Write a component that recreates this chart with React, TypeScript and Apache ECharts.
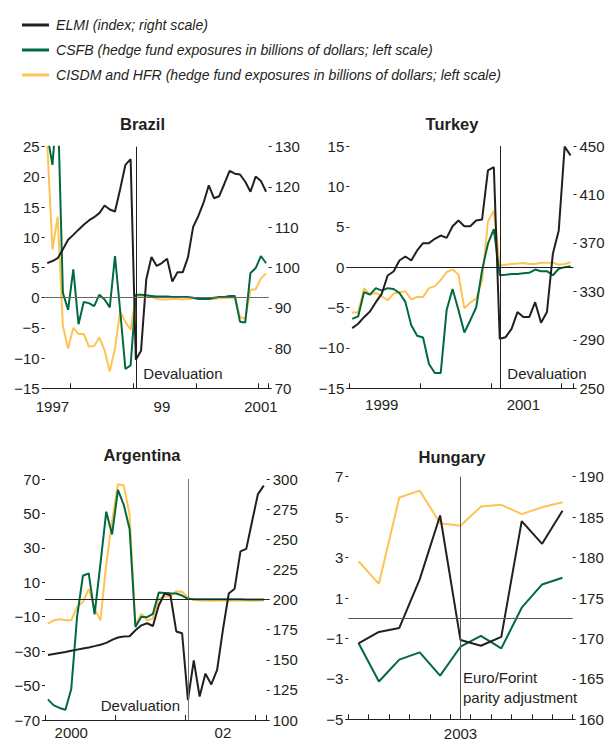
import React, { useEffect, useRef } from 'react';
import * as echarts from 'echarts';

const FONT_REG = '"Liberation Sans", Arial, Helvetica, sans-serif';
const INK = '#231f20';
const BLACK = '#231f20';
const GREEN = '#006a3e';
const YELLOW = '#fdc454';

const ELMI = 'ELMI (index; right scale)';
const CSFB = 'CSFB (hedge fund exposures in billions of dollars; left scale)';
const CISDM = 'CISDM and HFR (hedge fund exposures in billions of dollars; left scale)';

const monthList = (startYear: number, startMonth: number, count: number): string[] => {
  const out: string[] = [];
  for (let i = 0; i < count; i++) {
    const m0 = startMonth - 1 + i;
    const y = startYear + Math.floor(m0 / 12);
    const m = (m0 % 12) + 1;
    out.push(`${y}-${m < 10 ? '0' : ''}${m}`);
  }
  return out;
};

// ---------------- Brazil ----------------
const brazilMonths = monthList(1997, 8, 43);
const brazilElmi = [101.1, 101.6, 102.3, 104.5, 106.9, 108.1, 109.4, 110.6, 111.7, 112.5, 113.5, 115.4, 114.4, 113.9, 119.5, 125.5, 126.9, 77.1, 79.3, 97.0, 102.6, 100.4, 101.1, 102.2, 96.5, 98.8, 98.8, 102.5, 110.1, 112.8, 116.1, 120.4, 117.2, 117.7, 120.8, 124.0, 123.3, 123.1, 121.3, 118.8, 122.6, 121.5, 118.8];
const brazilCsfb = [27, 22, 33, 0.8, -2.0, 4.7, -4.4, -0.7, -0.9, -1.4, 0.5, -0.3, -1.6, 6.9, -2.2, -11.8, -11.2, 0.5, 0.5, 0.4, 0.3, 0.2, 0.2, 0.2, 0.1, 0.1, 0.1, 0.1, 0.0, -0.2, -0.2, -0.2, 0.0, 0.1, 0.1, 0.3, 0.3, -4.0, -4.1, 4.1, 4.9, 6.9, 5.7];
const brazilCisdm = [25.5, 8.0, 13.4, -4.7, -8.4, -5.0, -6.0, -6.0, -8.1, -8.0, -6.6, -8.7, -12.2, -8.4, -2.3, -4.0, -5.3, 0.3, 0.2, 0.2, 0.1, -0.2, -0.3, -0.3, -0.2, -0.2, -0.3, -0.2, -0.1, 0.0, -0.1, -0.2, -0.2, -0.1, -0.1, 0.0, 0.0, -3.2, -3.5, 1.3, 1.4, 3.2, 4.0];
const brazilLeftScale = { min: -15, max: 25, step: 5 };
const brazilRightScale = { min: 70, max: 130, step: 10 };
const brazilYearLabels: Record<string, string> = { '1997-09': '1997', '1999-06': '99', '2001-01': '2001' };
const brazilEvent = '1999-01';

// ---------------- Turkey ----------------
const turkeyMonths = monthList(1999, 1, 38);
const turkeyElmi = [299.7, 303.3, 308.7, 313.4, 321.1, 328.0, 343.1, 346.4, 355.5, 358.8, 355.5, 363.8, 369.8, 369.8, 373.4, 376.1, 374.2, 383.8, 388.5, 383.8, 383.8, 388.5, 389.3, 429.8, 432.5, 290.9, 292.2, 299.1, 312.9, 308.8, 308.8, 321.1, 304.1, 312.9, 361.0, 380.3, 449.5, 442.1];
const turkeyCsfb = [-6.4, -6.1, -3.1, -3.4, -2.6, -2.9, -2.6, -2.7, -3.2, -4.3, -7.2, -8.5, -8.7, -12.0, -13.1, -13.1, -5.3, -2.7, -5.3, -8.1, -6.6, -5.0, -0.4, 2.9, 4.7, -1.0, -0.95, -0.85, -0.85, -0.75, -0.7, -0.3, -0.5, -0.5, -1.0, -0.2, 0.0, 0.1];
const turkeyCisdm = [-5.6, -5.6, -2.6, -3.4, -3.2, -3.6, -4.1, -3.3, -3.1, -3.0, -4.0, -3.7, -3.7, -2.6, -2.35, -1.6, -0.6, -0.3, -0.9, -5.1, -4.4, -3.9, -1.65, 5.65, 7.0, 0.2, 0.3, 0.4, 0.45, 0.5, 0.4, 0.4, 0.55, 0.55, 0.55, 0.3, 0.4, 0.6];
const turkeyLeftScale = { min: -15, max: 15, step: 5 };
const turkeyRightScale = { min: 250, max: 450, step: 40 };
const turkeyYearLabels: Record<string, string> = { '1999-06': '1999', '2001-06': '2001' };
const turkeyEvent = '2001-02';

// ---------------- Argentina ----------------
const argentinaMonths = monthList(2000, 1, 38);
const argentinaElmi = [154, 154.8, 155.6, 156.4, 157.4, 158.4, 159.3, 160.2, 161.3, 162.5, 164, 166.5, 168.5, 169.3, 169.5, 174.5, 178.5, 180.3, 178, 195, 205, 203.5, 173.5, 172, 116.5, 149.5, 119.5, 138.5, 129.5, 141.5, 175, 205, 209, 240, 242, 265, 287.5, 294.5];
const argentinaCsfb = [-58, -61.5, -63, -64, -52, -10, 13.8, 15.2, -8.6, 20.7, 51, 37.8, 63.7, 55, 41, -16, -10, -10.3, -8.3, 4, 3.8, 3.6, 3.5, 2.3, 0.4, 0.2, 0.1, 0.1, 0.1, 0.2, 0.1, 0.1, 0.1, 0.1, 0.0, 0.0, 0.0, 0.0];
const argentinaCisdm = [-14, -12.1, -11.5, -12.1, -12.1, -4.4, -1.5, 6.1, -5.4, -12.1, 20.5, 45.5, 67, 66.2, 49.3, -15, -8.3, -12.1, -11.1, 0.5, 1.7, 1.7, 4.8, 4.5, 1.0, -0.2, -0.6, -0.6, -0.7, -0.6, -0.6, -0.7, -0.6, -0.6, -0.6, -0.7, -0.6, -0.6];
const argentinaLeftScale = { min: -70, max: 70, step: 20 };
const argentinaRightScale = { min: 100, max: 300, step: 25 };
const argentinaYearLabels: Record<string, string> = { '2000-05': '2000', '2002-07': '02' };
const argentinaEvent = '2002-01';

// ---------------- Hungary ----------------
const hungaryMonths = monthList(2003, 1, 11);
const hungaryElmi = [169.4, 170.8, 171.3, 177.3, 185.2, 169.8, 169.1, 170.2, 184.5, 181.7, 185.8];
const hungaryCsfb = [-1.23, -3.13, -2.05, -1.69, -2.84, -1.41, -0.87, -1.49, 0.52, 1.67, 2.0];
const hungaryCisdm = [2.82, 1.7, 5.97, 6.31, 4.7, 4.57, 5.52, 5.61, 5.15, 5.49, 5.74];
const hungaryLeftScale = { min: -5, max: 7, step: 2 };
const hungaryRightScale = { min: 160, max: 190, step: 5 };
const hungaryYearLabels: Record<string, string> = { '2003-06': '2003' };
const hungaryEvent = '2003-06';

type Scale = { min: number; max: number; step: number };
type Panel = {
  title: string;
  months: string[];
  elmi: number[];
  csfb: number[];
  cisdm: number[];
  left: Scale;
  right: Scale;
  yearLabels: Record<string, string>;
  event: string;
  notes: string[];
  tickEveryMonth: boolean;
};

const panels: Panel[] = [
  { title: 'Brazil', months: brazilMonths, elmi: brazilElmi, csfb: brazilCsfb, cisdm: brazilCisdm, left: brazilLeftScale, right: brazilRightScale, yearLabels: brazilYearLabels, event: brazilEvent, notes: ['Devaluation'], tickEveryMonth: false },
  { title: 'Turkey', months: turkeyMonths, elmi: turkeyElmi, csfb: turkeyCsfb, cisdm: turkeyCisdm, left: turkeyLeftScale, right: turkeyRightScale, yearLabels: turkeyYearLabels, event: turkeyEvent, notes: ['Devaluation'], tickEveryMonth: false },
  { title: 'Argentina', months: argentinaMonths, elmi: argentinaElmi, csfb: argentinaCsfb, cisdm: argentinaCisdm, left: argentinaLeftScale, right: argentinaRightScale, yearLabels: argentinaYearLabels, event: argentinaEvent, notes: ['Devaluation'], tickEveryMonth: false },
  { title: 'Hungary', months: hungaryMonths, elmi: hungaryElmi, csfb: hungaryCsfb, cisdm: hungaryCisdm, left: hungaryLeftScale, right: hungaryRightScale, yearLabels: hungaryYearLabels, event: hungaryEvent, notes: ['Euro/Forint', 'parity adjustment'], tickEveryMonth: true },
];

// layout (pixels on the 609 x 746 page)
const layouts = [
  { x: 44.65, y: 146.7, w: 224.05, h: 241.6, titleX: 142.5, titleY: 124, xLabelMargin: 10.5, eventColor: '#231f20', zeroColor: '#666666', notes: [{ x: 143.3, y: 373.5, align: 'left' }] },
  { x: 349.3, y: 146, w: 224.2, h: 242.3, titleX: 452, titleY: 124, xLabelMargin: 9, eventColor: '#231f20', zeroColor: '#231f20', notes: [{ x: 507.3, y: 373.5, align: 'left' }] },
  { x: 45, y: 479, w: 221.7, h: 241, titleX: 142, titleY: 455, xLabelMargin: 5, eventColor: '#777777', zeroColor: '#231f20', notes: [{ x: 180, y: 705.5, align: 'right' }] },
  { x: 348.3, y: 476.7, w: 224.4, h: 242.6, titleX: 452, titleY: 456.7, xLabelMargin: 6.5, eventColor: '#555555', zeroColor: '#555555', notes: [{ x: 463, y: 677, align: 'left' }, { x: 463, y: 697.5, align: 'left' }] },
];

const TITLE_SIZE = 16.5;
const minus = (v: number) => String(v).replace('-', '\u2212');

function buildOption() {
  const grid: any[] = [];
  const xAxis: any[] = [];
  const yAxis: any[] = [];
  const series: any[] = [];
  const title: any[] = [];
  const graphic: any[] = [];

  panels.forEach((p, i) => {
    const L = layouts[i];
    grid.push({ left: L.x, top: L.y, width: L.w, height: L.h, containLabel: false, outerBoundsMode: 'none', show: false });
    title.push({
      text: p.title,
      left: L.titleX,
      top: L.titleY - TITLE_SIZE / 2,
      textAlign: 'center',
      padding: 0,
      textStyle: { fontFamily: FONT_REG, fontWeight: 'bold', fontSize: TITLE_SIZE, color: INK },
    });
    xAxis.push({
      type: 'category',
      gridIndex: i,
      data: p.months,
      boundaryGap: true,
      axisLine: { show: true, onZero: false, lineStyle: { color: INK, width: 1 } },
      axisTick: {
        show: true,
        inside: true,
        length: 5,
        lineStyle: { color: INK, width: 1 },
        interval: (_idx: number, val: string) => p.tickEveryMonth || val.endsWith('-01'),
      },
      axisLabel: {
        show: true,
        interval: (_idx: number, val: string) => val in p.yearLabels,
        formatter: (val: string) => p.yearLabels[val] ?? '',
        margin: L.xLabelMargin,
        color: INK,
        fontSize: 15,
        fontFamily: FONT_REG,
      },
      splitLine: { show: false },
    });
    const yBase = (scale: Scale, pos: 'left' | 'right') => ({
      type: 'value',
      gridIndex: i,
      position: pos,
      min: scale.min,
      max: scale.max,
      interval: scale.step,
      axisLine: { show: false },
      axisTick: { show: true, length: 3, lineStyle: { color: INK, width: 1 } },
      axisLabel: { margin: pos === 'left' ? 5 : 6, color: INK, fontSize: 15, fontFamily: FONT_REG, formatter: minus },
      splitLine: { show: false },
    });
    yAxis.push(yBase(p.left, 'left'));
    yAxis.push(yBase(p.right, 'right'));

    const common = { type: 'line', xAxisIndex: i, symbol: 'none', silent: true, clip: true, smooth: false };
    series.push({
      ...common,
      name: CISDM,
      yAxisIndex: 2 * i,
      data: p.cisdm,
      color: YELLOW,
      lineStyle: { color: YELLOW, width: 2 },
      z: 2,
      markLine: {
        silent: true,
        symbol: 'none',
        label: { show: false },
        animation: false,
        data: [
          { xAxis: p.event, lineStyle: { color: L.eventColor, width: 1, type: 'solid' } },
          { yAxis: 0, lineStyle: { color: L.zeroColor, width: 1, type: 'solid' } },
        ],
      },
    });
    series.push({ ...common, name: CSFB, yAxisIndex: 2 * i, data: p.csfb, color: GREEN, lineStyle: { color: GREEN, width: 2 }, z: 3 });
    series.push({ ...common, name: ELMI, yAxisIndex: 2 * i + 1, data: p.elmi, color: BLACK, lineStyle: { color: BLACK, width: 2 }, z: 4 });

    p.notes.forEach((text, j) => {
      const n = L.notes[j];
      graphic.push({
        type: 'text',
        x: n.x,
        y: n.y,
        silent: true,
        style: { text, fill: INK, font: `15px ${FONT_REG}`, textAlign: n.align, textVerticalAlign: 'middle', verticalAlign: 'middle', align: n.align },
      });
    });
  });

  return {
    animation: false,
    backgroundColor: '#ffffff',
    textStyle: { fontFamily: FONT_REG },
    title,
    legend: {
      orient: 'vertical',
      left: 17,
      top: 11,
      itemWidth: 27,
      itemHeight: 3,
      itemGap: 7,
      icon: 'rect',
      selectedMode: false,
      data: [ELMI, CSFB, CISDM],
      textStyle: { fontFamily: FONT_REG, fontStyle: 'italic', fontSize: 14.1, color: INK, lineHeight: 18, padding: [0, 0, 0, 2] },
    },
    grid,
    xAxis,
    yAxis,
    series,
    graphic,
  };
}

export default function App() {
  const ref = useRef<HTMLDivElement>(null);
  useEffect(() => {
    if (!ref.current) return;
    const chart = echarts.init(ref.current, undefined, { renderer: 'svg' });
    chart.setOption(buildOption() as any);
    return () => chart.dispose();
  }, []);
  return (
    <div
      ref={ref}
      style={{ position: 'absolute', left: 0, top: 0, width: 609, height: 746, background: '#fff' }}
    />
  );
}
